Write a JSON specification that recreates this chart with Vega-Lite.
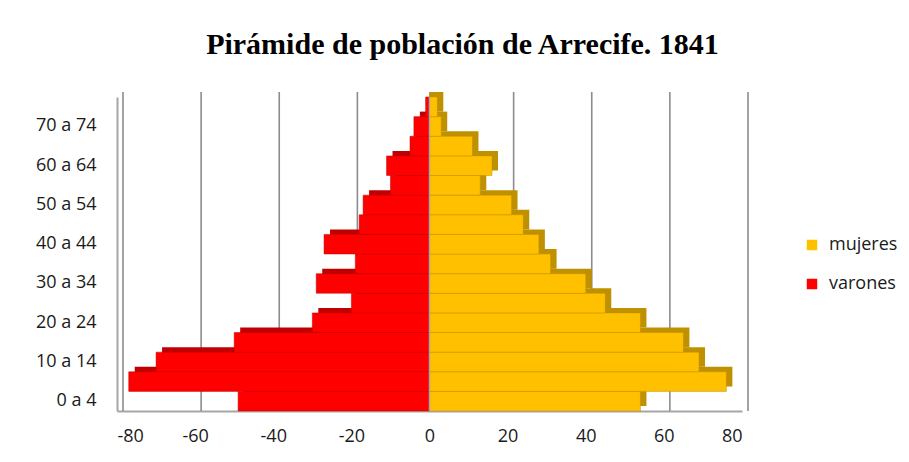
{
  "$schema": "https://vega.github.io/schema/vega-lite/v6.json",
  "width": 625,
  "height": 314,
  "autosize": {"type": "none"},
  "padding": {"left": 117, "top": 97, "right": 167, "bottom": 51},
  "background": "white",
  "title": {
    "text": "Pirámide de población de Arrecife. 1841",
    "font": "Liberation Serif",
    "fontSize": 30,
    "fontWeight": "bold",
    "color": "#000000",
    "anchor": "middle",
    "dx": 33,
    "offset": 31
  },
  "datasets": {
    "poblacion": [
      {"edad": "0 a 4", "sexo": "varones", "valor": -49},
      {"edad": "5 a 9", "sexo": "varones", "valor": -77},
      {"edad": "10 a 14", "sexo": "varones", "valor": -70},
      {"edad": "15 a 19", "sexo": "varones", "valor": -50},
      {"edad": "20 a 24", "sexo": "varones", "valor": -30},
      {"edad": "25 a 29", "sexo": "varones", "valor": -20},
      {"edad": "30 a 34", "sexo": "varones", "valor": -29},
      {"edad": "35 a 39", "sexo": "varones", "valor": -19},
      {"edad": "40 a 44", "sexo": "varones", "valor": -27},
      {"edad": "45 a 49", "sexo": "varones", "valor": -18},
      {"edad": "50 a 54", "sexo": "varones", "valor": -17},
      {"edad": "55 a 59", "sexo": "varones", "valor": -10},
      {"edad": "60 a 64", "sexo": "varones", "valor": -11},
      {"edad": "65 a 69", "sexo": "varones", "valor": -5},
      {"edad": "70 a 74", "sexo": "varones", "valor": -4},
      {"edad": "75 y más", "sexo": "varones", "valor": -1},
      {"edad": "0 a 4", "sexo": "mujeres", "valor": 54},
      {"edad": "5 a 9", "sexo": "mujeres", "valor": 76},
      {"edad": "10 a 14", "sexo": "mujeres", "valor": 69},
      {"edad": "15 a 19", "sexo": "mujeres", "valor": 65},
      {"edad": "20 a 24", "sexo": "mujeres", "valor": 54},
      {"edad": "25 a 29", "sexo": "mujeres", "valor": 45},
      {"edad": "30 a 34", "sexo": "mujeres", "valor": 40},
      {"edad": "35 a 39", "sexo": "mujeres", "valor": 31},
      {"edad": "40 a 44", "sexo": "mujeres", "valor": 28},
      {"edad": "45 a 49", "sexo": "mujeres", "valor": 24},
      {"edad": "50 a 54", "sexo": "mujeres", "valor": 21},
      {"edad": "55 a 59", "sexo": "mujeres", "valor": 13},
      {"edad": "60 a 64", "sexo": "mujeres", "valor": 16},
      {"edad": "65 a 69", "sexo": "mujeres", "valor": 11},
      {"edad": "70 a 74", "sexo": "mujeres", "valor": 3},
      {"edad": "75 y más", "sexo": "mujeres", "valor": 2}
    ],
    "rejilla": [
      {"v": -80}, {"v": -60}, {"v": -40}, {"v": -20}, {"v": 0},
      {"v": 20}, {"v": 40}, {"v": 60}, {"v": 80}
    ],
    "cero": [{"v": 0}]
  },
  "layer": [
    {
      "data": {"name": "rejilla"},
      "mark": {"type": "rule", "color": "#8C8C8C", "strokeWidth": 1.6, "xOffset": 6, "yOffset": -5, "y2Offset": -5},
      "encoding": {
        "x": {
          "field": "v",
          "type": "quantitative",
          "scale": {"domain": [-80, 80], "nice": false, "zero": false},
          "axis": {"values": [-80, -60, -40, -20, 0, 20, 40, 60, 80], "title": null, "labelExpr": "datum.value < 0 ? '-' + abs(datum.value) : '' + datum.value"}
        }
      }
    },
    {
      "data": {"name": "poblacion"},
      "mark": {"type": "bar", "xOffset": 6, "x2Offset": 6, "yOffset": -5, "y2Offset": -5},
      "encoding": {
        "x": {
          "field": "valor",
          "type": "quantitative",
          "stack": null,
          "scale": {"domain": [-80, 80], "nice": false, "zero": false},
          "axis": {"values": [-80, -60, -40, -20, 0, 20, 40, 60, 80], "title": null, "labelExpr": "datum.value < 0 ? '-' + abs(datum.value) : '' + datum.value"}
        },
        "y": {
          "field": "edad",
          "type": "nominal",
          "sort": ["75 y más", "70 a 74", "65 a 69", "60 a 64", "55 a 59", "50 a 54", "45 a 49", "40 a 44", "35 a 39", "30 a 34", "25 a 29", "20 a 24", "15 a 19", "10 a 14", "5 a 9", "0 a 4"],
          "scale": {"paddingInner": 0, "paddingOuter": 0},
          "axis": {"values": ["70 a 74", "60 a 64", "50 a 54", "40 a 44", "30 a 34", "20 a 24", "10 a 14", "0 a 4"], "title": null}
        },
        "fill": {
          "condition": {"test": "datum.sexo == 'varones'", "value": "#C00000"},
          "value": "#BF9000"
        }
      }
    },
    {
      "data": {"name": "poblacion"},
      "mark": {"type": "bar", "strokeWidth": 0.6, "strokeOpacity": 0.8},
      "encoding": {
        "x": {
          "field": "valor",
          "type": "quantitative",
          "stack": null,
          "scale": {"domain": [-80, 80], "nice": false, "zero": false},
          "axis": {"values": [-80, -60, -40, -20, 0, 20, 40, 60, 80], "title": null, "labelExpr": "datum.value < 0 ? '-' + abs(datum.value) : '' + datum.value"}
        },
        "y": {
          "field": "edad",
          "type": "nominal",
          "sort": ["75 y más", "70 a 74", "65 a 69", "60 a 64", "55 a 59", "50 a 54", "45 a 49", "40 a 44", "35 a 39", "30 a 34", "25 a 29", "20 a 24", "15 a 19", "10 a 14", "5 a 9", "0 a 4"],
          "scale": {"paddingInner": 0, "paddingOuter": 0},
          "axis": {"values": ["70 a 74", "60 a 64", "50 a 54", "40 a 44", "30 a 34", "20 a 24", "10 a 14", "0 a 4"], "title": null}
        },
        "color": {
          "field": "sexo",
          "type": "nominal",
          "scale": {"domain": ["mujeres", "varones"], "range": ["#FFC000", "#FF0000"]},
          "legend": {
            "title": null,
            "orient": "none",
            "legendX": 686,
            "legendY": 139,
            "symbolType": "square",
            "symbolSize": 110,
            "symbolStrokeWidth": 0,
            "labelFont": "Open Sans",
            "labelFontSize": 18,
            "labelColor": "#1a1a1a",
            "labelOffset": 8,
            "rowPadding": 21
          }
        },
        "stroke": {
          "condition": {"test": "datum.sexo == 'varones'", "value": "#C00000"},
          "value": "#BF9000"
        }
      }
    },
    {
      "data": {"name": "cero"},
      "mark": {"type": "rule", "color": "#A6A6A6", "strokeWidth": 1.5},
      "encoding": {
        "x": {
          "field": "v",
          "type": "quantitative",
          "scale": {"domain": [-80, 80], "nice": false, "zero": false},
          "axis": {"values": [-80, -60, -40, -20, 0, 20, 40, 60, 80], "title": null, "labelExpr": "datum.value < 0 ? '-' + abs(datum.value) : '' + datum.value"}
        }
      }
    }
  ],
  "config": {
    "view": {"stroke": null},
    "axis": {"grid": false, "ticks": false, "labelFont": "Open Sans", "labelFontSize": 18, "labelColor": "#1a1a1a"},
    "axisX": {"domain": true, "domainColor": "#A6A6A6", "domainWidth": 2, "labelPadding": 16},
    "axisY": {"domain": true, "domainColor": "#A6A6A6", "domainWidth": 2, "labelPadding": 21}
  }
}
